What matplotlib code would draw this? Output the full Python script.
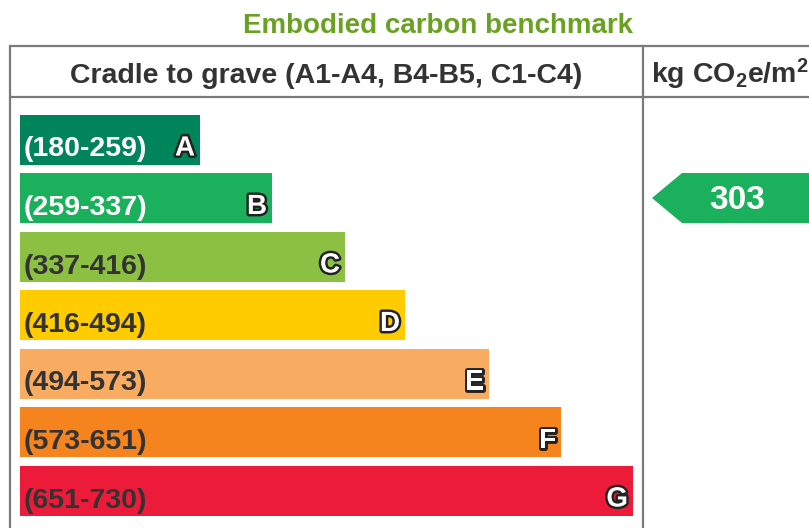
import matplotlib
matplotlib.use("Agg")
import matplotlib.pyplot as plt
import matplotlib.patheffects as pe
from matplotlib.patches import Polygon

# ---- data ----
title = "Embodied carbon benchmark"
header_left = "Cradle to grave (A1-A4, B4-B5, C1-C4)"
header_right = "kg CO$_2$e/m$^2$"
letters = ["A", "B", "C", "D", "E", "F", "G"]
range_lo = [180, 259, 337, 416, 494, 573, 651]
range_hi = [259, 337, 416, 494, 573, 651, 730]
range_labels = ["(180-259)", "(259-337)", "(337-416)", "(416-494)",
                "(494-573)", "(573-651)", "(651-730)"]
bar_lengths = [180, 252, 325, 385, 469, 541, 613]   # relative bar length (px scale)
bar_colors = ["#00845a", "#1bb05c", "#8cc043", "#ffcc00", "#f7ac62", "#f5841f", "#ed1b3a"]
label_colors = ["white", "white", "#333333", "#333333", "#333333", "#333333", "#333333"]
value = 303

base = "Liberation Sans"
plt.rcParams["mathtext.fontset"] = "custom"
plt.rcParams["mathtext.rm"] = "Liberation Sans:bold"
plt.rcParams["mathtext.it"] = "Liberation Sans:bold"
plt.rcParams["mathtext.bf"] = "Liberation Sans:bold"

W, H = 809, 528
fig = plt.figure(figsize=(W / 100, H / 100), dpi=100)
ax = fig.add_axes([0, 0, 1, 1])
ax.set_xlim(0, W)
ax.set_ylim(H, 0)
ax.axis("off")

# layout (pixels)
x0 = 20
row0 = 139.5
pitch = 58.5
bar_h = 50
frame_left, frame_div, frame_top, header_bot = 10, 643, 46, 97
gray = "#7a7a7a"

# frame
ax.plot([frame_left, W], [frame_top, frame_top], color=gray, lw=1.6, solid_capstyle="butt")
ax.plot([frame_left, W], [header_bot, header_bot], color=gray, lw=1.6, solid_capstyle="butt")
ax.plot([frame_left, frame_left], [frame_top, H], color=gray, lw=1.6)
ax.plot([frame_div, frame_div], [frame_top, H], color=gray, lw=1.6)

# title and headers
ax.text(438, 33, title, ha="center", va="baseline", fontsize=20, fontweight="bold",
        color="#6aa121", family=base)
ax.text(326, 83, header_left, ha="center", va="baseline", fontsize=20.5, fontweight="bold",
        color="#333333", family=base)
ax.text(651, 83, header_right, ha="left", va="baseline", fontsize=20.5, fontweight="bold",
        color="#333333", family=base)

# bars
ys = [row0 + i * pitch for i in range(len(letters))]
ax.barh(ys, bar_lengths, left=x0, height=bar_h, color=bar_colors, edgecolor="none")
for i, (y, L) in enumerate(zip(ys, bar_lengths)):
    ax.text(x0 + 4, y + 17, range_labels[i], ha="left", va="baseline", fontsize=20.5,
            fontweight="bold", color=label_colors[i], family=base)
    ax.text(x0 + L - 5, y + 16, letters[i], ha="right", va="baseline", fontsize=20,
            fontweight="bold", color="white", family=base,
            path_effects=[pe.withStroke(linewidth=3.5, foreground="#222222")])

# rating arrow
idx = next(i for i in range(len(letters)) if range_lo[i] <= value < range_hi[i])
ya = ys[idx]
tip, shoulder = 652, 682
poly = Polygon([(tip, ya), (shoulder, ya - bar_h / 2), (W + 5, ya - bar_h / 2),
                (W + 5, ya + bar_h / 2), (shoulder, ya + bar_h / 2)],
               closed=True, facecolor=bar_colors[idx], edgecolor="none")
ax.add_patch(poly)
ax.text(737, ya + 11, str(value), ha="center", va="baseline", fontsize=24,
        fontweight="bold", color="white", family=base)

fig.savefig("out.png", dpi=100)
